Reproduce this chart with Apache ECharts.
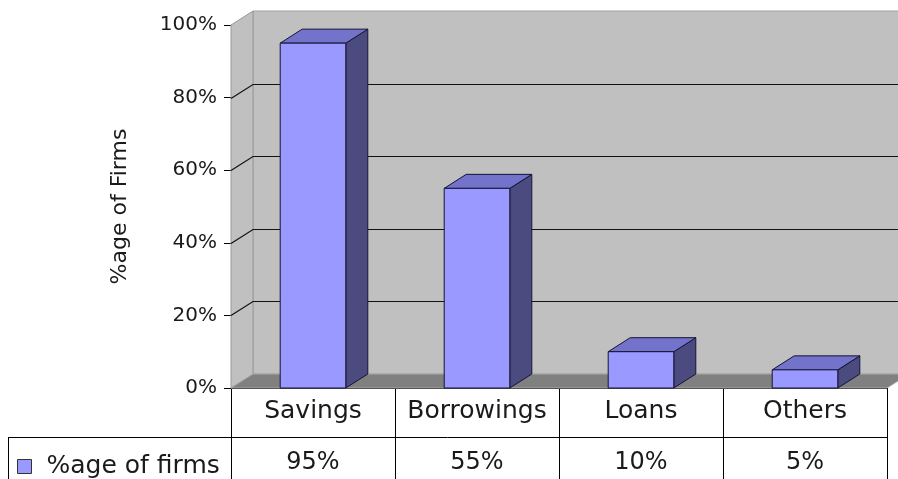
<!DOCTYPE html>
<html>
<head>
<meta charset="utf-8">
<script src="https://cdn.jsdelivr.net/npm/echarts@6/dist/echarts.min.js"></script>
<style>
  html, body { margin: 0; padding: 0; background: #fff; }
  #chart { width: 898px; height: 479px; }
</style>
</head>
<body>
<div id="chart"></div>
<script>
const categories = ['Savings', 'Borrowings', 'Loans', 'Others'];
const firmShares = [95, 55, 10, 5];
const yTicks = [0, 20, 40, 60, 80, 100];
const seriesName = '%age of firms';
const axisName = '%age of Firms';

// depth of the fake 3d box
const DX = 22;
const DY = -14;
const font = 'DejaVu Sans, Verdana, sans-serif';
const textColor = '#1a1a1a';

// back wall, side wall, floor and gridlines
function renderWalls(params, api) {
  const cs = params.coordSys;
  const x0 = cs.x;
  const x1 = cs.x + cs.width;
  const yTop = cs.y;
  const yBot = cs.y + cs.height;
  const children = [
    {
      type: 'polygon',
      shape: { points: [[x0 + DX, yTop + DY], [x1 + DX, yTop + DY], [x1 + DX, yBot + DY], [x0 + DX, yBot + DY]] },
      style: { fill: '#c0c0c0', stroke: '#a0a0a0', lineWidth: 1 },
    },
    {
      type: 'polygon',
      shape: { points: [[x0, yTop], [x0 + DX, yTop + DY], [x0 + DX, yBot + DY], [x0, yBot]] },
      style: { fill: '#c0c0c0', stroke: '#999', lineWidth: 1 },
    },
    {
      type: 'polygon',
      shape: { points: [[x0, yBot], [x0 + DX, yBot + DY], [x1 + DX, yBot + DY], [x1, yBot]] },
      style: { fill: '#808080', stroke: '#a8a8a8', lineWidth: 1 },
    },
  ];
  yTicks.forEach((v) => {
    if (v === yTicks[0] || v === yTicks[yTicks.length - 1]) return;
    const y = Math.round(api.coord([0, v])[1]) + 0.5;
    children.push({
      type: 'polyline',
      shape: { points: [[x0, y], [x0 + DX, y + DY], [x1 + DX, y + DY]] },
      style: { stroke: '#111', lineWidth: 1.2, fill: null },
    });
  });
  return { type: 'group', children };
}

function renderBar(params, api) {
  const top = api.coord([api.value(0), api.value(1)]);
  const base = api.coord([api.value(0), 0]);
  const w = api.size([1, 0])[0] * 0.4;
  const xa = top[0] - w / 2;
  const xb = top[0] + w / 2;
  const yt = top[1];
  const yb = base[1];
  const edge = { stroke: '#141433', lineWidth: 1 };
  return {
    type: 'group',
    children: [
      {
        type: 'polygon',
        shape: { points: [[xb, yt], [xb + DX, yt + DY], [xb + DX, yb + DY], [xb, yb]] },
        style: Object.assign({ fill: '#4b4b80' }, edge),
      },
      {
        type: 'polygon',
        shape: { points: [[xa, yt], [xb, yt], [xb + DX, yt + DY], [xa + DX, yt + DY]] },
        style: Object.assign({ fill: '#7373cc' }, edge),
      },
      {
        type: 'rect',
        shape: { x: xa, y: yt, width: w, height: yb - yt },
        style: Object.assign({ fill: '#9999ff' }, edge),
      },
    ],
  };
}

const option = {
  animation: false,
  backgroundColor: '#fff',
  textStyle: { fontFamily: font },
  grid: { left: 231, right: 11, top: 25, bottom: 91, outerBoundsMode: 'none' },
  legend: {
    data: [seriesName],
    left: 12,
    top: 449,
    icon: 'rect',
    itemWidth: 14,
    itemHeight: 14,
    itemStyle: { borderColor: '#333', borderWidth: 1 },
    textStyle: { fontFamily: font, fontSize: 25, color: textColor, padding: [0, 0, 0, 10] },
  },
  xAxis: [
    {
      type: 'category',
      data: categories,
      axisLine: { show: true, lineStyle: { color: '#000', width: 1 } },
      axisTick: { show: true, interval: 0, length: 91, lineStyle: { color: '#000', width: 1 } },
      axisLabel: { interval: 0, fontFamily: font, fontSize: 25, color: textColor, margin: 11 },
      splitLine: { show: false },
    },
    {
      type: 'category',
      data: firmShares.map((v) => v + '%'),
      position: 'bottom',
      offset: 49,
      axisLine: { show: false },
      axisTick: { show: false },
      axisLabel: { interval: 0, fontFamily: font, fontSize: 24, color: textColor, margin: 14 },
      splitLine: { show: false },
    },
  ],
  yAxis: {
    type: 'value',
    min: 0,
    max: 100,
    interval: 20,
    name: axisName,
    nameLocation: 'middle',
    nameRotate: 90,
    nameGap: 100,
    nameTextStyle: { fontFamily: font, fontSize: 22, color: textColor },
    axisLine: { show: true, lineStyle: { color: '#000', width: 1 } },
    axisTick: { show: true, length: 7, lineStyle: { color: '#000', width: 1 } },
    axisLabel: { formatter: '{value}%', fontFamily: font, fontSize: 20, color: textColor, margin: 14 },
    splitLine: { show: false },
  },
  graphic: [
    { type: 'line', shape: { x1: 8, y1: 437.5, x2: 887, y2: 437.5 }, style: { stroke: '#000', lineWidth: 1 } },
    { type: 'line', shape: { x1: 8.5, y1: 437, x2: 8.5, y2: 479 }, style: { stroke: '#000', lineWidth: 1 } },
  ],
  series: [
    {
      name: 'walls',
      type: 'custom',
      renderItem: renderWalls,
      data: [[0, 0]],
      silent: true,
      z: 1,
    },
    {
      name: seriesName,
      type: 'custom',
      renderItem: renderBar,
      encode: { x: 0, y: 1 },
      itemStyle: { color: '#9999ff' },
      data: firmShares.map((v, i) => [i, v]),
      z: 2,
    },
  ],
};

const myChart = echarts.init(document.getElementById('chart'));
myChart.setOption(option);
</script>
</body>
</html>
